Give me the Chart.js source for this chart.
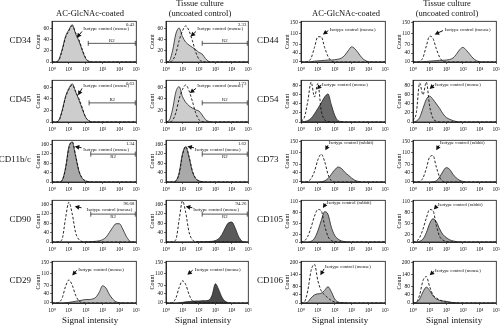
<!DOCTYPE html>
<html>
<head>
<meta charset="utf-8">
<script src="https://cdn.jsdelivr.net/npm/chart.js@4.4.1/dist/chart.umd.min.js"></script>
<style>
  body { margin: 0; background: #fff; }
  #fig { position: relative; width: 500px; height: 328px; overflow: hidden; }
  #fig canvas { position: absolute; }
</style>
</head>
<body>
<div id="fig"><canvas id="captions" width="500" height="328" style="left:0;top:0"></canvas></div>
<script>
// signal intensity in decades (10^0 .. 10^5)
const decades = [0, 0.2, 0.4, 0.6, 0.8, 1, 1.2, 1.4, 1.6, 1.8, 2, 2.2, 2.4, 2.6, 2.8, 3, 3.2, 3.4, 3.6, 3.8, 4, 4.2, 4.4, 4.6, 4.8, 5];
const xTickLabels = ['10⁰', '10¹', '10²', '10³', '10⁴', '10⁵'];

// y tick sets
const ticks60 = [0, 20, 40, 60];
const ticks80 = [0, 20, 40, 60, 80];
const ticks110 = [0, 20, 50, 80, 110];
const ticks150 = [10, 40, 70, 110, 150];
const ticks160 = [0, 40, 80, 120, 160];
const ticks200 = [0, 40, 80, 140, 200];

// counts: coated / tissue culture, with isotype controls
const cd34Coated     = [0,0,4,22,45,57,66,50,37,20,6,1,0,0,0,0,0,0,0,0,0,0,0,0,0,0];
const cd34CoatedIso  = [0,0,3,20,43,55,64,52,39,22,7,1,0,0,0,0,0,0,0,0,0,0,0,0,0,0];
const cd34Tissue     = [0,2,20,50,60,45,35,30,26,22,17,14,6,1,0,0,0,0,0,0,0,0,0,0,0,0];
const cd34TissueIso  = [0,0,3,15,38,55,64,55,38,18,5,1,0,0,0,0,0,0,0,0,0,0,0,0,0,0];

const cd45Coated     = [0,0,3,20,44,58,66,52,38,22,8,2,0,0,0,0,0,0,0,0,0,0,0,0,0,0];
const cd45CoatedIso  = [0,0,2,18,42,56,64,53,40,24,8,2,0,0,0,0,0,0,0,0,0,0,0,0,0,0];
const cd45Tissue     = [0,3,22,52,61,44,34,28,24,21,19,12,4,1,0,0,0,0,0,0,0,0,0,0,0,0];
const cd45TissueIso  = [0,0,3,16,40,56,64,54,36,16,4,1,0,0,0,0,0,0,0,0,0,0,0,0,0,0];

const cd11Coated     = [0,0,0,8,60,150,170,110,45,15,4,1,0,0,0,0,0,0,0,0,0,0,0,0,0,0];
const cd11CoatedIso  = [0,0,0,6,55,145,172,115,48,16,5,1,0,0,0,0,0,0,0,0,0,0,0,0,0,0];
const cd11Tissue     = [0,0,0,5,40,120,150,105,45,15,5,1,0,0,0,0,0,0,0,0,0,0,0,0,0,0];
const cd11TissueIso  = [0,0,0,4,35,115,152,110,48,16,5,1,0,0,0,0,0,0,0,0,0,0,0,0,0,0];

const cd90Coated     = [0,0,0,0,0,0,0,0,0,0,1,1,2,3,5,10,20,40,62,78,78,55,25,5,0,0];
const cd90CoatedIso  = [0,0,1,12,100,170,120,40,10,2,0,0,0,0,0,0,0,0,0,0,0,0,0,0,0,0];
const cd90Tissue     = [0,0,0,0,0,0,0,0,0,0,1,1,1,2,3,6,14,32,60,82,85,60,25,5,0,0];
const cd90TissueIso  = [0,0,1,10,95,175,125,42,10,2,0,0,0,0,0,0,0,0,0,0,0,0,0,0,0,0];

const cd29Coated     = [8,8,8,8,9,10,12,14,16,18,20,20,22,28,45,68,60,38,22,12,9,8,8,8,8,8];
const cd29CoatedIso  = [8,8,10,25,65,88,70,35,15,10,8,8,8,8,8,8,8,8,8,8,8,8,8,8,8,8];
const cd29Tissue     = [8,8,8,8,9,10,12,13,14,15,15,16,16,18,35,75,55,28,14,9,8,8,8,8,8,8];
const cd29TissueIso  = [8,8,10,25,62,85,72,38,16,10,8,8,8,8,8,8,8,8,8,8,8,8,8,8,8,8];

const cd44Coated     = [8,8,8,9,11,12,13,14,15,15,16,18,22,32,48,62,55,40,24,14,9,8,8,8,8,8];
const cd44CoatedIso  = [8,8,10,22,60,98,98,60,28,12,8,8,8,8,8,8,8,8,8,8,8,8,8,8,8,8];
const cd44Tissue     = [8,8,8,9,10,11,12,13,14,14,15,17,22,35,52,60,50,36,22,13,9,8,8,8,8,8];
const cd44TissueIso  = [8,8,10,24,65,100,92,55,25,11,8,8,8,8,8,8,8,8,8,8,8,8,8,8,8,8];

const cd54Coated     = [0,1,3,8,18,30,42,55,62,38,15,3,1,0,0,0,0,0,0,0,0,0,0,0,0,0];
const cd54CoatedIso  = [2,10,45,88,55,85,25,5,1,0,0,0,0,0,0,0,0,0,0,0,0,0,0,0,0,0];
const cd54Tissue     = [0,2,10,30,50,57,50,40,30,18,10,6,3,1,0,0,0,0,0,0,0,0,0,0,0,0];
const cd54TissueIso  = [3,20,86,60,88,35,8,2,0,0,0,0,0,0,0,0,0,0,0,0,0,0,0,0,0,0];

const cd73Coated     = [8,8,8,8,8,8,9,12,20,35,50,60,55,42,32,22,14,10,8,8,8,8,8,8,8,8];
const cd73CoatedIso  = [8,8,10,20,45,85,105,80,35,12,8,8,8,8,8,8,8,8,8,8,8,8,8,8,8,8];
const cd73Tissue     = [8,8,8,8,8,8,9,12,25,45,58,52,35,22,14,10,8,8,8,8,8,8,8,8,8,8];
const cd73TissueIso  = [8,8,10,22,55,95,100,60,25,10,8,8,8,8,8,8,8,8,8,8,8,8,8,8,8,8];

const cd105Coated    = [0,0,0,2,10,30,58,82,75,40,18,8,3,1,0,0,0,0,0,0,0,0,0,0,0,0];
const cd105CoatedIso = [0,3,15,40,70,88,85,45,15,4,1,0,0,0,0,0,0,0,0,0,0,0,0,0,0,0];
const cd105Tissue    = [0,0,2,8,25,50,63,55,35,20,12,6,3,1,0,0,0,0,0,0,0,0,0,0,0,0];
const cd105TissueIso = [0,2,12,35,65,88,85,45,15,5,1,0,0,0,0,0,0,0,0,0,0,0,0,0,0,0];

const cd106Coated    = [0,0,5,25,40,45,48,62,80,55,20,5,2,1,0,0,0,0,0,0,0,0,0,0,0,0];
const cd106CoatedIso = [0,5,60,160,190,110,60,40,25,12,5,1,0,0,0,0,0,0,0,0,0,0,0,0,0,0];
const cd106Tissue    = [0,2,20,55,78,62,35,20,13,10,8,5,2,1,0,0,0,0,0,0,0,0,0,0,0,0];
const cd106TissueIso = [0,4,40,110,130,80,40,25,15,8,4,1,0,0,0,0,0,0,0,0,0,0,0,0,0,0];

// plot boxes on the page
const colBox = [[52, 137], [166, 249], [301, 386], [413, 497]];
const rowBox = [[21, 62], [80, 122], [140, 182], [200, 242], [261, 303]];

const panels = [
  { col: 0, row: 0, marker: 'CD34', counts: cd34Coated, iso: cd34CoatedIso, shade: '#cdcdcd', yMin: 0, yMax: 72, yTicks: ticks60, host: 'mouse',
    note: [1.85, 58], arrow: [1.78, 54, 1.47, 43], gate: { from: 2.15, at: 33, pct: '0.43', below: false } },
  { col: 1, row: 0, counts: cd34Tissue, iso: cd34TissueIso, shade: '#cdcdcd', yMin: 0, yMax: 72, yTicks: ticks60, host: 'mouse',
    note: [1.9, 58], arrow: [1.82, 54, 1.5, 45], gate: { from: 2.2, at: 33, pct: '2.33', below: false } },
  { col: 0, row: 1, marker: 'CD45', counts: cd45Coated, iso: cd45CoatedIso, shade: '#cdcdcd', yMin: 0, yMax: 72, yTicks: ticks60, host: 'mouse',
    note: [1.85, 62], arrow: [1.78, 58, 1.55, 46], gate: { from: 2.2, at: 33, pct: '0.63', below: false } },
  { col: 1, row: 1, counts: cd45Tissue, iso: cd45TissueIso, shade: '#cdcdcd', yMin: 0, yMax: 72, yTicks: ticks60, host: 'mouse',
    note: [1.9, 62], arrow: [1.82, 58, 1.45, 50], gate: { from: 2.2, at: 33, pct: '1.73', below: false } },
  { col: 0, row: 2, marker: 'CD11b/c', counts: cd11Coated, iso: cd11CoatedIso, shade: '#a9a9a9', yMin: 0, yMax: 178, yTicks: ticks160, host: 'mouse',
    note: [1.85, 138], arrow: [1.75, 146, 1.35, 152], gate: { from: 2.3, at: 119, pct: '1.34', below: true } },
  { col: 1, row: 2, counts: cd11Tissue, iso: cd11TissueIso, shade: '#a9a9a9', yMin: 0, yMax: 178, yTicks: ticks160, host: 'mouse',
    note: [1.75, 138], arrow: [1.7, 146, 1.3, 152], gate: { from: 2.2, at: 119, pct: '1.62', below: true } },
  { col: 0, row: 3, marker: 'CD90', counts: cd90Coated, iso: cd90CoatedIso, shade: '#c4c4c4', yMin: 0, yMax: 178, yTicks: ticks160, host: 'mouse',
    note: [2.05, 138], arrow: [1.75, 146, 1.35, 152], gate: { from: 2.3, at: 119, pct: '96.68', below: true } },
  { col: 1, row: 3, counts: cd90Tissue, iso: cd90TissueIso, shade: '#5a5a5a', yMin: 0, yMax: 178, yTicks: ticks160, host: 'mouse',
    note: [1.65, 138], arrow: [1.6, 146, 1.2, 152], gate: { from: 2.2, at: 119, pct: '94.26', below: true } },
  { col: 0, row: 4, marker: 'CD29', counts: cd29Coated, iso: cd29CoatedIso, shade: '#bfbfbf', yMin: 8, yMax: 153, yTicks: ticks150, host: 'mouse',
    note: [1.55, 125], arrow: [1.47, 122, 1.2, 104] },
  { col: 1, row: 4, counts: cd29Tissue, iso: cd29TissueIso, shade: '#4a4a4a', yMin: 8, yMax: 153, yTicks: ticks150, host: 'mouse',
    note: [1.75, 125], arrow: [1.62, 122, 1.3, 106] },

  { col: 2, row: 0, marker: 'CD44', counts: cd44Coated, iso: cd44CoatedIso, shade: '#c4c4c4', yMin: 8, yMax: 153, yTicks: ticks150, host: 'mouse',
    note: [1.7, 124], arrow: [1.62, 120, 1.3, 106] },
  { col: 3, row: 0, counts: cd44Tissue, iso: cd44TissueIso, shade: '#c4c4c4', yMin: 8, yMax: 153, yTicks: ticks150, host: 'mouse',
    note: [1.9, 124], arrow: [1.8, 120, 1.3, 106] },
  { col: 2, row: 1, marker: 'CD54', counts: cd54Coated, iso: cd54CoatedIso, shade: '#6a6a6a', yMin: 0, yMax: 92, yTicks: ticks80, host: 'mouse',
    note: [1.25, 83], arrow: [1.2, 82, 0.95, 72] },
  { col: 3, row: 1, counts: cd54Tissue, iso: cd54TissueIso, shade: '#b5b5b5', yMin: 0, yMax: 92, yTicks: ticks80, host: 'mouse',
    note: [1.32, 83], arrow: [1.27, 82, 1.0, 73] },
  { col: 2, row: 2, marker: 'CD73', counts: cd73Coated, iso: cd73CoatedIso, shade: '#a5a5a5', yMin: 8, yMax: 153, yTicks: ticks150, host: 'rabbit',
    note: [1.65, 145], arrow: [1.6, 136, 1.45, 118] },
  { col: 3, row: 2, counts: cd73Tissue, iso: cd73TissueIso, shade: '#a5a5a5', yMin: 8, yMax: 153, yTicks: ticks150, host: 'rabbit',
    note: [1.62, 145], arrow: [1.57, 136, 1.4, 118] },
  { col: 2, row: 3, marker: 'CD105', counts: cd105Coated, iso: cd105CoatedIso, shade: '#a0a0a0', yMin: 0, yMax: 113, yTicks: ticks110, host: 'rabbit',
    note: [1.53, 107], arrow: [1.47, 104, 1.3, 92] },
  { col: 3, row: 3, counts: cd105Tissue, iso: cd105TissueIso, shade: '#a0a0a0', yMin: 0, yMax: 113, yTicks: ticks110, host: 'rabbit',
    note: [1.5, 100], arrow: [1.45, 98, 1.25, 88] },
  { col: 2, row: 4, marker: 'CD106', counts: cd106Coated, iso: cd106CoatedIso, shade: '#b0b0b0', yMin: 0, yMax: 205, yTicks: ticks200, host: 'mouse',
    note: [1.42, 176], arrow: [1.37, 168, 1.15, 136] },
  { col: 3, row: 4, counts: cd106Tissue, iso: cd106TissueIso, shade: '#b0b0b0', yMin: 0, yMax: 205, yTicks: ticks200, host: 'mouse',
    note: [1.32, 160], arrow: [1.27, 156, 1.0, 136] }
];

// column headings and bottom captions
const headings = [
  { lines: ['AC-GlcNAc-coated'], cx: 90 },
  { lines: ['Tissue culture', '(uncoated control)'], cx: 200 },
  { lines: ['AC-GlcNAc-coated'], cx: 346 },
  { lines: ['Tissue culture', '(uncoated control)'], cx: 447 }
];
const captionCentres = [90, 203, 340, 454];

const serif = "'Liberation Serif', 'DejaVu Serif', serif";
const fig = document.getElementById('fig');

// isotype note, arrow, frame and R2 gate drawn on top of the histograms
function makeMarks(p) {
  return {
    id: 'panelMarks',
    afterDatasetsDraw(chart) {
      const { ctx, chartArea: a, scales: { x, y } } = chart;
      ctx.save();
      ctx.strokeStyle = '#111';
      ctx.fillStyle = '#111';
      ctx.lineWidth = 0.8;
      ctx.strokeRect(a.left, a.top, a.right - a.left, a.bottom - a.top);

      ctx.font = '4.8px ' + serif;
      ctx.textAlign = 'left';
      ctx.textBaseline = 'middle';
      ctx.fillText('Isotype control (' + p.host + ')', x.getPixelForValue(p.note[0]), y.getPixelForValue(p.note[1]));

      const tx = x.getPixelForValue(p.arrow[0]), ty = y.getPixelForValue(p.arrow[1]);
      const hx = x.getPixelForValue(p.arrow[2]), hy = y.getPixelForValue(p.arrow[3]);
      const ang = Math.atan2(hy - ty, hx - tx);
      ctx.lineWidth = 1;
      ctx.beginPath();
      ctx.moveTo(tx, ty);
      ctx.lineTo(hx - Math.cos(ang) * 2, hy - Math.sin(ang) * 2);
      ctx.stroke();
      ctx.beginPath();
      ctx.moveTo(hx, hy);
      ctx.lineTo(hx - Math.cos(ang) * 4.5 + Math.sin(ang) * 2.4, hy - Math.sin(ang) * 4.5 - Math.cos(ang) * 2.4);
      ctx.lineTo(hx - Math.cos(ang) * 4.5 - Math.sin(ang) * 2.4, hy - Math.sin(ang) * 4.5 + Math.cos(ang) * 2.4);
      ctx.closePath();
      ctx.fill();

      if (p.gate) {
        const g = p.gate;
        const gx0 = x.getPixelForValue(g.from), gx1 = x.getPixelForValue(5) - 1;
        const gy = y.getPixelForValue(g.at);
        ctx.lineWidth = 0.7;
        ctx.beginPath();
        ctx.moveTo(gx0, gy); ctx.lineTo(gx1, gy);
        ctx.moveTo(gx0, gy - 2.5); ctx.lineTo(gx0, gy + 2.5);
        ctx.moveTo(gx1, gy - 2.5); ctx.lineTo(gx1, gy + 2.5);
        ctx.stroke();
        ctx.textAlign = 'center';
        ctx.textBaseline = g.below ? 'top' : 'bottom';
        ctx.fillText('R2', (gx0 + gx1) / 2, g.below ? gy + 0.5 : gy - 0.3);
        ctx.textAlign = 'right';
        ctx.textBaseline = 'top';
        ctx.fillText(g.pct, a.right - 2, a.top + 1.5);
      }
      ctx.restore();
    }
  };
}

const yW = 17, padTop = 4, padRight = 5, xH = 12;
const cap = document.getElementById('captions').getContext('2d');
cap.fillStyle = '#111';
cap.textBaseline = 'middle';

panels.forEach(p => {
  const [bl, br] = colBox[p.col];
  const [bt, bb] = rowBox[p.row];
  const cv = document.createElement('canvas');
  cv.width = yW + (br - bl) + padRight;
  cv.height = padTop + (bb - bt) + xH;
  cv.style.left = (bl - yW) + 'px';
  cv.style.top = (bt - padTop) + 'px';
  fig.appendChild(cv);

  const pts = arr => decades.map((d, i) => ({ x: d, y: arr[i] }));

  new Chart(cv.getContext('2d'), {
    type: 'line',
    data: {
      datasets: [
        { data: pts(p.iso), fill: false, borderColor: '#111', borderWidth: 0.9, borderDash: [2.5, 1.8],
          pointRadius: 0, cubicInterpolationMode: 'monotone' },
        { data: pts(p.counts), fill: 'origin', backgroundColor: p.shade, borderColor: '#222', borderWidth: 0.8,
          pointRadius: 0, cubicInterpolationMode: 'monotone' }
      ]
    },
    options: {
      responsive: false,
      animation: false,
      devicePixelRatio: 1,
      layout: { padding: { top: padTop, right: padRight, left: 0, bottom: 0 } },
      plugins: { legend: { display: false }, tooltip: { enabled: false } },
      scales: {
        x: {
          type: 'linear', min: 0, max: 5,
          afterBuildTicks: s => { s.ticks = [0, 1, 2, 3, 4, 5].map(v => ({ value: v })); },
          afterFit: s => { s.height = xH; },
          ticks: { callback: (v, i) => xTickLabels[i], font: { family: serif, size: 5.5 }, color: '#111', padding: 2, maxRotation: 0, autoSkip: false },
          grid: { drawOnChartArea: false, tickLength: 2, color: '#111', lineWidth: 0.6 },
          border: { color: '#111', width: 0.8 }
        },
        y: {
          min: p.yMin, max: p.yMax,
          afterBuildTicks: s => { s.ticks = p.yTicks.map(v => ({ value: v })); },
          afterFit: s => { s.width = yW; },
          ticks: { font: { family: serif, size: 5.5 }, color: '#111', padding: 1, autoSkip: false },
          grid: { drawOnChartArea: false, tickLength: 2, color: '#111', lineWidth: 0.6 },
          border: { color: '#111', width: 0.8 },
          title: { display: true, text: 'Count', font: { family: serif, size: 6 }, color: '#111', padding: 0 }
        }
      }
    },
    plugins: [makeMarks(p)]
  });

  // marker name at the left of each row
  if (p.marker) {
    const mid = (bt + bb) / 2 - 1;
    cap.font = '9px ' + serif;
    if (p.col === 0) {
      cap.textAlign = 'right';
      cap.fillText(p.marker, 31, mid);
    } else {
      cap.textAlign = 'left';
      cap.fillText(p.marker, 257, mid);
    }
  }
});

cap.font = '8.5px ' + serif;
cap.textAlign = 'center';
headings.forEach(h => {
  h.lines.forEach((t, i) => {
    const line = h.lines.length === 1 ? 1 : i;
    cap.fillText(t, h.cx, 4 + line * 10);
  });
});
cap.font = '9px ' + serif;
captionCentres.forEach(cx => cap.fillText('Signal intensity', cx, 321));
</script>
</body>
</html>
